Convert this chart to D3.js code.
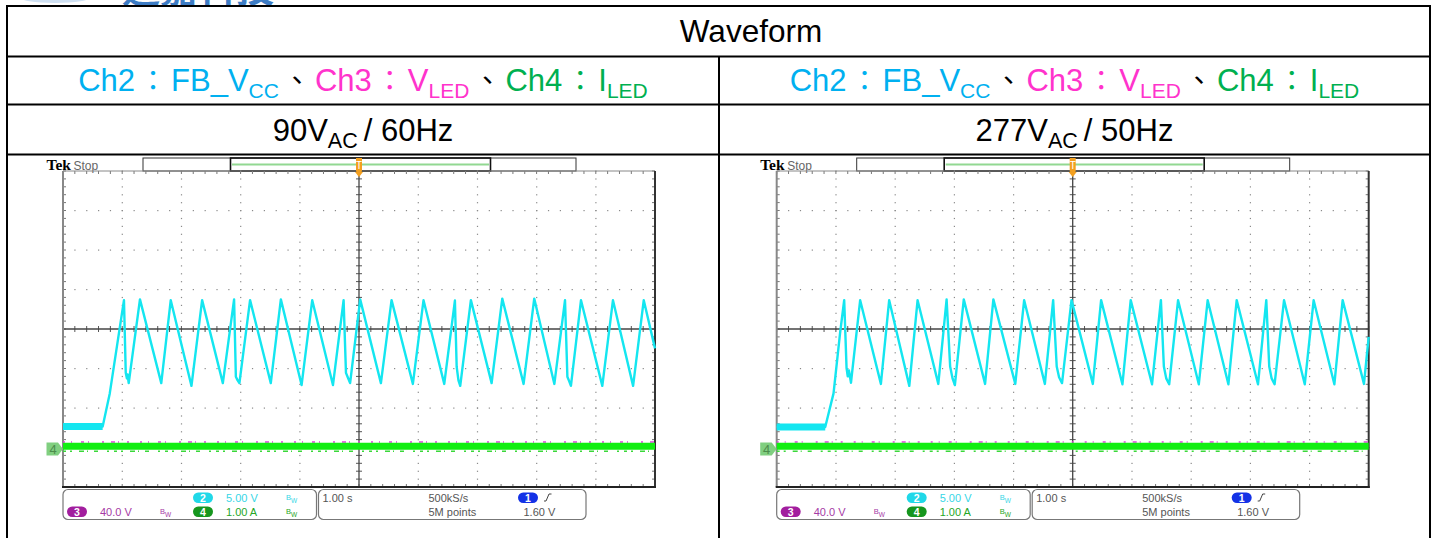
<!DOCTYPE html>
<html><head><meta charset="utf-8">
<script src="https://cdn.jsdelivr.net/npm/d3@7"></script>
<style>body{margin:0;background:#fff}svg{display:block}</style>
</head><body>
<svg id="c" width="1437" height="538"></svg>
<script>
// ---------------- data ----------------
const titleText = "Waveform";
const legendTexts = ["Ch2","：","FB_V","CC","、","Ch3","：","V","LED","、","Ch4","：","I","LED"];
const legendChannel = [2,2,2,2,0,3,3,3,3,0,4,4,4,4];
const condVoltage = ["90V","277V"];
const condSub = ["AC ","AC "];
const condFreq = ["/ 60Hz","/ 50Hz"];
const logoText = "通嘉科技";

// oscilloscope settings text
const ch2Scale = "5.00 V", ch3Scale = "40.0 V", ch4Scale = "1.00 A";
const timeBase = "1.00 s", sampleRate = "500kS/s", recordLength = "5M points", trigLevel = "1.60 V";
const xDivisions = d3.range(0, 11);     // seconds (1.00 s/div, 10 div)
const yDivisions = d3.range(-4, 5);     // vertical divisions

// Ch2 (FB_VCC) traces: [time s, divisions]
const ch2Left = [[0,-2.47],[0.67,-2.47],[0.79,-1.63],[1.03,0.73],[1.06,-1.11],[1.08,-1.25],[1.09,-1.15],[1.11,-1.37],
 [1.30,0.75],[1.66,-1.37],[1.82,0.73],[2.17,-1.44],[2.35,0.73],[2.70,-1.37],[2.89,0.75],[2.92,-1.21],[2.95,-1.30],[2.98,-1.37],
 [3.16,0.73],[3.51,-1.37],[3.68,0.75],[4.03,-1.42],[4.21,0.73],[4.56,-1.42],[4.74,0.73],[4.78,-1.11],[4.81,-1.22],[4.85,-1.37],
 [5.02,0.75],[5.37,-1.37],[5.55,0.73],[5.91,-1.39],[6.09,0.73],[6.44,-1.39],[6.62,0.72],[6.65,-0.96],[6.68,-1.30],[6.71,-1.44],
 [6.89,0.73],[7.24,-1.37],[7.42,0.77],[7.78,-1.39],[7.96,0.77],[8.30,-1.39],[8.48,0.73],[8.52,-1.21],[8.55,-1.32],[8.58,-1.44],
 [8.75,0.73],[9.11,-1.44],[9.29,0.73],[9.63,-1.44],[9.81,0.73],[10.0,-0.49]];
const ch2Right = [[0,-2.48],[0.82,-2.48],[0.96,-1.63],[1.07,-0.11],[1.14,0.73],[1.18,-0.99],[1.20,-1.20],[1.22,-1.05],[1.255,-1.36],
 [1.41,0.73],[1.76,-1.39],[1.90,0.73],[2.24,-1.44],[2.38,0.73],[2.73,-1.39],[2.87,0.75],[2.93,-0.95],[2.97,-1.25],[3.01,-1.42],
 [3.16,0.75],[3.52,-1.39],[3.66,0.75],[4.03,-1.39],[4.18,0.73],[4.53,-1.39],[4.67,0.73],[4.73,-0.95],[4.77,-1.22],[4.82,-1.37],
 [4.98,0.73],[5.34,-1.39],[5.48,0.73],[5.84,-1.40],[5.98,0.73],[6.34,-1.40],[6.49,0.73],[6.54,-0.95],[6.58,-1.25],[6.63,-1.40],
 [6.78,0.73],[7.13,-1.40],[7.28,0.73],[7.63,-1.40],[7.77,0.73],[8.13,-1.40],[8.27,0.73],[8.32,-0.95],[8.36,-1.25],[8.41,-1.40],
 [8.57,0.73],[8.92,-1.40],[9.07,0.73],[9.42,-1.40],[9.56,0.73],[9.92,-1.39],[10,-0.2]];
const ch3Level = [[0,-2.86],[10,-2.86]];   // V_LED
const ch4Level = [[0,-2.97],[10,-2.97]];   // I_LED
const ch4Ground = -3.04;
const traces = [ch2Left, ch2Right];

// ---------------- drawing ----------------
const svg = d3.select("#c");
const FONT = "'Liberation Sans', Arial, sans-serif";
const CJK = "'Noto Sans CJK TC','Noto Sans CJK SC',sans-serif";
const chColor = {0:"#000", 2:"#00B0F0", 3:"#FF33CC", 4:"#00B050"};

// logo remnants at top
svg.append("ellipse").attr("cx",55).attr("cy",-3).attr("rx",36).attr("ry",6).attr("fill","#cfe0f2");
svg.append("text").attr("x",122).attr("y",2).attr("font-family",CJK).attr("font-size",38)
  .attr("font-weight","bold").attr("fill","#3d7cc4").text(logoText);

// table
const tL = 7, tR = 1430, colDiv = 719, rows = [6, 56.5, 104.5, 154.5];
const grid = svg.append("g").attr("stroke","#000").attr("stroke-width",2);
rows.forEach(y => grid.append("line").attr("x1",tL-1).attr("x2",tR+1).attr("y1",y).attr("y2",y));
[tL, tR].forEach(x => grid.append("line").attr("x1",x).attr("x2",x).attr("y1",rows[0]).attr("y2",538));
grid.append("line").attr("x1",colDiv).attr("x2",colDiv).attr("y1",rows[1]).attr("y2",538);

svg.append("text").attr("x",751).attr("y",42).attr("text-anchor","middle")
  .attr("font-family",FONT).attr("font-size",31.5).attr("fill","#000").text(titleText);

const colCenters = [(tL+colDiv)/2, (colDiv+tR)/2];
colCenters.forEach((cx, i) => {
  const t = svg.append("text").attr("x",cx).attr("y",91).attr("text-anchor","middle")
    .attr("font-family",FONT).attr("font-size",31);
  let shifted = false, pad = 0;
  legendTexts.forEach((s, k) => {
    const isSub = (k===3 || k===8 || k===13);
    const isCjk = (s==="：" || s==="、");
    const ts = t.append("tspan").text(s).attr("fill", chColor[legendChannel[k]]);
    if (pad) { ts.attr("dx", pad); pad = 0; }
    if (isCjk) { ts.attr("font-family",CJK).attr("font-size",28).attr("dx",4); pad = 4; }
    if (isSub && !shifted) { ts.attr("dy",7).attr("font-size",21); shifted = true; }
    else if (isSub) ts.attr("font-size",21);
    else if (shifted) { ts.attr("dy",-7); shifted = false; }
  });
  const c = svg.append("text").attr("x",cx).attr("y",141).attr("text-anchor","middle")
    .attr("font-family",FONT).attr("font-size",31).attr("fill","#000");
  c.append("tspan").text(condVoltage[i]);
  c.append("tspan").text(condSub[i]).attr("font-size",21.5).attr("dy",7);
  c.append("tspan").text(condFreq[i]).attr("dy",-7);
});

// oscilloscope panels
const panelDx = [0, 713.7];
function drawScope(ox, data) {
  const g = svg.append("g");
  const gl = ox+63, gr = ox+655, gt = 171, gb = 487;
  const x = d3.scaleLinear().domain([0,10]).range([gl,gr]);
  const y = d3.scaleLinear().domain([-4,4]).range([gb,gt]);
  const minorX = d3.range(0, 10.001, 0.2), minorY = d3.range(-4, 4.001, 0.2);

  // Tek header
  g.append("text").attr("x",ox+46.5).attr("y",170).attr("font-family","'Liberation Serif','DejaVu Serif',serif")
    .attr("font-weight","bold").attr("font-size",15.5).attr("fill","#000").text("Tek");
  g.append("text").attr("x",ox+73.5).attr("y",169.5).attr("font-family",FONT).attr("font-size",12).attr("fill","#666").text("Stop");
  g.append("rect").attr("x",ox+143).attr("y",158).attr("width",433).attr("height",13)
    .attr("fill","#fff").attr("stroke","#333").attr("stroke-width",1);
  g.append("rect").attr("x",ox+230.5).attr("y",158).attr("width",260).attr("height",13)
    .attr("fill","none").attr("stroke","#111").attr("stroke-width",1.6);
  g.append("line").attr("x1",ox+232).attr("x2",ox+489).attr("y1",164.5).attr("y2",164.5)
    .attr("stroke","#92d892").attr("stroke-width",2);

  // grid dots
  const dots = g.append("g").attr("fill","#8a8a8a");
  xDivisions.filter(d => d>0 && d<10 && d!==5).forEach(xd => {
    minorY.forEach(yd => dots.append("rect").attr("x",x(xd)-0.5).attr("y",y(yd)-0.5).attr("width",1.2).attr("height",1.2));
  });
  yDivisions.filter(d => d>-4 && d<4 && d!==0).forEach(yd => {
    minorX.forEach(xd => dots.append("rect").attr("x",x(xd)-0.5).attr("y",y(yd)-0.5).attr("width",1.2).attr("height",1.2));
  });
  // ticks
  const tk = g.append("g").attr("stroke","#777").attr("stroke-width",1);
  minorX.forEach(xd => {
    tk.append("line").attr("x1",x(xd)).attr("x2",x(xd)).attr("y1",gt).attr("y2",gt+3);
    tk.append("line").attr("x1",x(xd)).attr("x2",x(xd)).attr("y1",gb-3).attr("y2",gb);
    tk.append("line").attr("x1",x(xd)).attr("x2",x(xd)).attr("y1",y(0)-3).attr("y2",y(0)+3).attr("stroke","#555");
  });
  minorY.forEach(yd => {
    tk.append("line").attr("x1",gl).attr("x2",gl+3).attr("y1",y(yd)).attr("y2",y(yd));
    tk.append("line").attr("x1",gr-3).attr("x2",gr).attr("y1",y(yd)).attr("y2",y(yd));
    tk.append("line").attr("x1",x(5)-3).attr("x2",x(5)+3).attr("y1",y(yd)).attr("y2",y(yd)).attr("stroke","#555");
  });
  // center crosshair
  g.append("line").attr("x1",gl).attr("x2",gr).attr("y1",y(0)).attr("y2",y(0)).attr("stroke","#444").attr("stroke-width",1.3);
  g.append("line").attr("x1",x(5)).attr("x2",x(5)).attr("y1",gt).attr("y2",gb).attr("stroke","#444").attr("stroke-width",1.3);
  // frame
  g.append("line").attr("x1",gl).attr("x2",gr).attr("y1",gt).attr("y2",gt).attr("stroke","#888").attr("stroke-width",1);
  g.append("line").attr("x1",gl).attr("x2",gl).attr("y1",gt).attr("y2",gb).attr("stroke","#888").attr("stroke-width",2);
  g.append("line").attr("x1",gr).attr("x2",gr).attr("y1",gt).attr("y2",gb+1).attr("stroke","#333").attr("stroke-width",2);
  g.append("line").attr("x1",gl-1).attr("x2",gr+1).attr("y1",gb).attr("y2",gb).attr("stroke","#222").attr("stroke-width",2);

  // trigger marker
  const tx = x(5);
  g.append("path").attr("d",`M${tx-3},158 h6 v13 L${tx},176 L${tx-3},171 Z`).attr("fill","#f3a020");
  g.append("path").attr("d",`M${tx-4},172 L${tx+4},172 L${tx},177 Z`).attr("fill","#f3a020");
  g.append("text").attr("x",tx).attr("y",169).attr("text-anchor","middle").attr("font-family",FONT)
    .attr("font-size",10).attr("fill","#fff").text("T");

  const line = d3.line().x(d => x(d[0])).y(d => y(d[1]));
  // Ch3 (V_LED) speckles and Ch4 (I_LED)
  g.append("path").attr("d",line(ch3Level)).attr("fill","none")
    .attr("stroke","#e040e0").attr("stroke-width",1.6).attr("stroke-dasharray","2 6 1 9 3 4 1 13 2 7 4 3 1 8 2 11");
  g.append("path").attr("d",line(ch4Level)).attr("fill","none").attr("stroke","#12ee12").attr("stroke-width",7);
  g.append("path").attr("d",line(ch4Level)).attr("transform","translate(0,5)").attr("fill","none")
    .attr("stroke","#3ad83a").attr("stroke-width",1.4).attr("stroke-dasharray","3 4 2 7 5 3 1 6 4 9 2 5");
  // Ch2 trace
  g.append("path").attr("d",line(data.slice(0,2))).attr("fill","none").attr("stroke","#14e6f0").attr("stroke-width",7);
  g.append("path").attr("d",line(data)).attr("fill","none").attr("stroke","#14e6f0")
    .attr("stroke-width",2.4).attr("stroke-linejoin","round");

  // Ch4 ground marker
  const gy = y(ch4Ground);
  g.append("path").attr("d",`M${ox+46.5},${gy-6.5} h11.5 l5,6.5 l-5,6.5 h-11.5 Z`).attr("fill","#80cf80");
  g.append("text").attr("x",ox+53).attr("y",gy+5).attr("text-anchor","middle").attr("font-family",FONT)
    .attr("font-size",13).attr("fill","#4c8c4c").text("4");

  // bottom readout boxes
  g.append("rect").attr("x",ox+63).attr("y",489.5).attr("width",253.5).attr("height",30).attr("rx",5)
    .attr("fill","#fff").attr("stroke","#777").attr("stroke-width",1.2);
  g.append("rect").attr("x",ox+318.5).attr("y",489.5).attr("width",267.5).attr("height",30).attr("rx",5)
    .attr("fill","#fff").attr("stroke","#777").attr("stroke-width",1.2);
  const pill = (px, py, fill, label) => {
    g.append("rect").attr("x",px).attr("y",py).attr("width",20).attr("height",10.5).attr("rx",5.2).attr("fill",fill);
    g.append("text").attr("x",px+10).attr("y",py+9).attr("text-anchor","middle").attr("font-family",FONT)
      .attr("font-size",10.5).attr("font-weight","bold").attr("fill","#fff").text(label);
  };
  const txt = (px, py, s, col) => g.append("text").attr("x",px).attr("y",py).attr("font-family",FONT)
      .attr("font-size",11).attr("fill",col).text(s);
  const bw = (px, py, col) => {
    const t = g.append("text").attr("x",px).attr("y",py).attr("font-family",FONT).attr("font-size",7.5).attr("fill",col);
    t.append("tspan").text("B");
    t.append("tspan").text("W").attr("dy",2.5).attr("font-size",6.5);
  };
  pill(ox+193, 492.5, "#20d8e8", "2");
  txt(ox+226, 502, ch2Scale, "#36d6e6");
  bw(ox+286, 500, "#36d6e6");
  pill(ox+67, 506.5, "#a21e9e", "3");
  txt(ox+100, 516, ch3Scale, "#a53aa5");
  bw(ox+160, 514, "#a53aa5");
  pill(ox+193, 506.5, "#16961e", "4");
  txt(ox+226, 516, ch4Scale, "#26a626");
  bw(ox+286, 514, "#26a626");
  txt(ox+322.5, 502, timeBase, "#555");
  txt(ox+428.5, 502, sampleRate, "#555");
  txt(ox+428.5, 516, recordLength, "#555");
  pill(ox+518, 492.5, "#1432e6", "1");
  g.append("path").attr("d",`M${ox+544},${501} h2 l3,-7 h2.5`).attr("fill","none").attr("stroke","#444").attr("stroke-width",1);
  txt(ox+523.5, 516, trigLevel, "#555");
}
panelDx.forEach((dx, i) => drawScope(dx, traces[i]));
</script>
</body></html>
